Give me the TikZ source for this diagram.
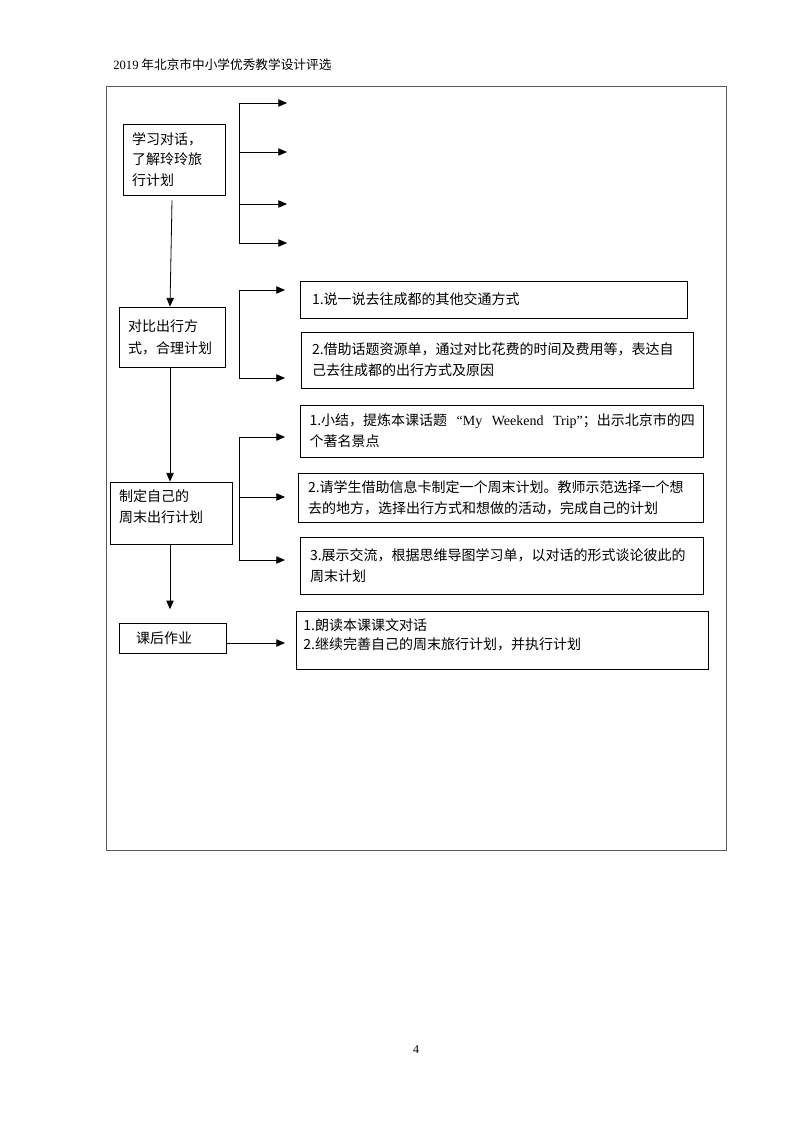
\documentclass[tikz,border=0pt]{standalone}
\usepackage{fontspec}
\setmainfont{Noto Sans CJK SC}
\newfontfamily\lat{Liberation Serif}
\usetikzlibrary{arrows.meta}
\definecolor{framegray}{HTML}{5A5A5A}
\tikzset{
  bx/.style={draw, line width=0.6pt, align=left, inner ysep=0pt, font=\fontsize{10.5pt}{15.75pt}\selectfont},
  arr/.style={line width=0.6pt, -{Triangle[length=6.5pt,width=5.5pt]}},
  ln/.style={line width=0.6pt},
}
\begin{document}
\begin{tikzpicture}[x=0.75pt,y=-0.75pt]
\useasboundingbox[fill=white] (0,0) rectangle (794,1123);
% header
\node[anchor=west, inner sep=0pt, font=\fontsize{9.5pt}{11pt}\selectfont] (hdr) at (113,65) {{\lat 2019} 年北京市中小学优秀教学设计评选};
% frame
\draw[framegray, line width=0.75pt] (106,87) rectangle (726,850);
% left column
\node[bx, minimum width=76.5pt, minimum height=53.25pt, text width=63pt, inner xsep=6.75pt, font=\fontsize{10.5pt}{15.5pt}\selectfont] (b1) at (174,159.5) {学习对话，\\了解玲玲旅\\行计划};
\node[bx, minimum width=79.5pt, minimum height=45pt, text width=66pt, inner xsep=6.75pt, font=\fontsize{10.5pt}{16.5pt}\selectfont] (b2) at (172,337) {对比出行方\\式，合理计划};
\node[bx, minimum width=91.5pt, minimum height=46.5pt, text width=78pt, inner xsep=6.75pt] (b3) at (171,513) {制定自己的\\周末出行计划\\[-6pt]\mbox{}};
\node[bx, minimum width=80.25pt, minimum height=22.5pt, text width=54.75pt, inner xsep=12.75pt] (b4) at (172.5,638) {课后作业};
% right column
\node[bx, minimum width=290.25pt, minimum height=27.75pt, text width=272.25pt, inner xsep=9pt] (b2a) at (493.5,299.5) {1.说一说去往成都的其他交通方式};
\node[bx, minimum width=294pt, minimum height=42pt, text width=277.5pt, inner xsep=8.25pt] (b2b) at (497,360) {2.借助话题资源单，通过对比花费的时间及费用等，表达自\\己去往成都的出行方式及原因};
\node[bx, minimum width=302.25pt, minimum height=39pt, text width=288pt, inner xsep=7.125pt] (b3a) at (501.5,431) {\hbox to 289pt{1.小结，提炼本课话题\hfill{\lat “My}\hfill{\lat Weekend}\hfill{\lat Trip”}；出示北京市的四}\\个著名景点};
\node[bx, minimum width=303.75pt, minimum height=36.75pt, text width=288.75pt, inner xsep=7.5pt] (b3b) at (500.5,497.5) {2.请学生借助信息卡制定一个周末计划。教师示范选择一个想\\去的地方，选择出行方式和想做的活动，完成自己的计划};
\node[bx, minimum width=302.25pt, minimum height=42.75pt, text width=287.25pt, inner xsep=7.5pt] (b3c) at (501.5,565.5) {3.展示交流，根据思维导图学习单，以对话的形式谈论彼此的\\周末计划};
\node[bx, minimum width=309pt, minimum height=43.5pt, text width=298pt, inner xsep=5.5pt, font=\fontsize{10.5pt}{14.25pt}\selectfont] (b4a) at (502,640) {1.朗读本课课文对话\\2.继续完善自己的周末旅行计划，并执行计划\\[-5pt]\mbox{}};
% vertical flow
\draw[arr] ([xshift=-1.5pt,yshift=-3.75pt]b1.south) -- ([xshift=-1.5pt]b2.north);
\draw[arr] ([xshift=-1.5pt]b2.south) -- ([xshift=-1.5pt]b2.south |- b3.north);
\draw[arr, shorten >=10pt] ([xshift=-0.75pt]b3.south) -- ([xshift=-0.75pt]b3.south |- b4.north);
% bracket 1
\coordinate (k1t) at (239,103);
\coordinate (k1b) at (239,243);
\coordinate (t11) at (287,103);
\coordinate (t12) at (287,152);
\coordinate (t13) at (287,204);
\coordinate (t14) at (287,243);
\draw[arr] (k1b) -- (k1t) -- (t11);
\draw[arr] (k1t) -- (k1b) -- (t14);
\draw[arr] (k1t |- t12) -- (t12);
\draw[arr] (k1t |- t13) -- (t13);
% bracket 2
\coordinate (k2t) at (239,290);
\coordinate (k2b) at (239,378);
\coordinate (t21) at (285,290);
\coordinate (t22) at (285,378);
\draw[arr] (k2b) -- (k2t) -- (t21);
\draw[arr] (k2t) -- (k2b) -- (t22);
% bracket 3
\coordinate (k3t) at (239,437);
\coordinate (k3b) at (239,560);
\coordinate (t31) at (285,437);
\coordinate (t32) at (285,497);
\coordinate (t33) at (285,560);
\draw[arr] (k3b) -- (k3t) -- (t31);
\draw[arr] (k3t) -- (k3b) -- (t33);
\draw[arr] (k3t |- t32) -- (t32);
% homework arrow
\coordinate (t41) at (285,643);
\draw[arr] (b4.east |- t41) -- (t41);
% page number
\node[font=\lat\fontsize{9pt}{11pt}\selectfont, inner sep=0pt] (pg) at (416,1050) {4};
\end{tikzpicture}
\end{document}
